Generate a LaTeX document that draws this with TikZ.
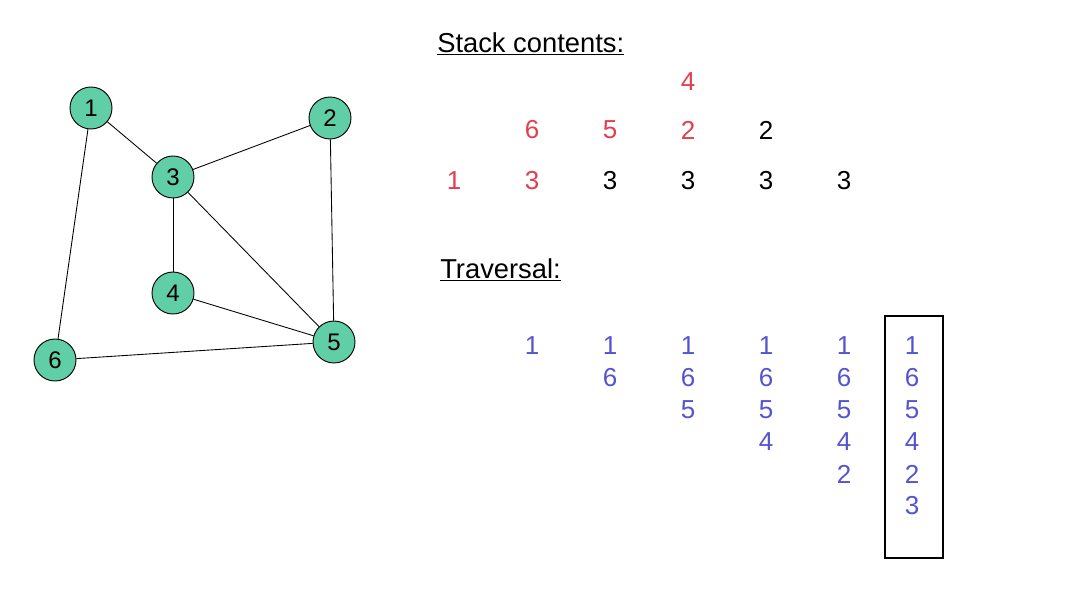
\documentclass[tikz,border=0pt]{standalone}
\usepackage{fontspec}
\setmainfont{Liberation Sans}
\definecolor{mint}{RGB}{96,206,166}
\definecolor{sred}{RGB}{226,62,78}
\definecolor{tblue}{RGB}{84,84,208}
\begin{document}
\begin{tikzpicture}[x=0.75pt,y=-0.75pt,
  vert/.style={circle,draw=black,line width=0.7pt,fill=mint,minimum size=31.5pt,inner sep=0pt,font=\fontsize{18}{18}\selectfont},
  edge/.style={line width=0.65pt},
  num/.style={inner sep=0pt,font=\fontsize{19.5}{19.5}\selectfont},
  redn/.style={num,text=sred},
  blkn/.style={num,text=black},
  blun/.style={num,text=tblue},
  head/.style={inner sep=0pt,anchor=base west,font=\fontsize{20.5}{20.5}\selectfont}]
\useasboundingbox (0,0) rectangle (1070,596);
% graph
\node[vert] (v1) at (91,108) {1};
\node[vert] (v2) at (330,118) {2};
\node[vert] (v3) at (173,177) {3};
\node[vert] (v4) at (173,293) {4};
\node[vert] (v5) at (334,342) {5};
\node[vert] (v6) at (55,360) {6};
\draw[edge] (v1) -- (v3);
\draw[edge] (v1) -- (v6);
\draw[edge] (v3) -- (v2);
\draw[edge] (v3) -- (v4);
\draw[edge] (v3) -- (v5);
\draw[edge] (v2) -- (v5);
\draw[edge] (v4) -- (v5);
\draw[edge] (v6) -- (v5);
% headings
\node[head] (hstack) at (437,52) {\underline{Stack contents:}};
\node[head] (htrav) at (440,278) {\underline{Traversal:}};
% stack contents
\node[redn] (s11) at (454,181) {1};
\node[redn] (s21) at (532,181) {3};
\node[redn] (s22) at (532,130) {6};
\node[blkn] (s31) at (610,181) {3};
\node[redn] (s32) at (610,130) {5};
\node[blkn] (s41) at (688,181) {3};
\node[redn] (s42) at (688,130) {2};
\node[redn] (s43) at (688,82) {4};
\node[blkn] (s51) at (766,181) {3};
\node[blkn] (s52) at (766,130) {2};
\node[blkn] (s61) at (844,181) {3};
% traversal
\node[blun] (t11) at (532,346) {1};
\node[blun] (t21) at (610,346) {1};
\node[blun] (t22) at (610,378) {6};
\node[blun] (t31) at (688,346) {1};
\node[blun] (t32) at (688,378) {6};
\node[blun] (t33) at (688,410) {5};
\node[blun] (t41) at (766,346) {1};
\node[blun] (t42) at (766,378) {6};
\node[blun] (t43) at (766,410) {5};
\node[blun] (t44) at (766,442) {4};
\node[blun] (t51) at (844,346) {1};
\node[blun] (t52) at (844,378) {6};
\node[blun] (t53) at (844,410) {5};
\node[blun] (t54) at (844,442) {4};
\node[blun] (t55) at (844,474) {2};
\node[blun] (t61) at (912,346) {1};
\node[blun] (t62) at (912,378) {6};
\node[blun] (t63) at (912,410) {5};
\node[blun] (t64) at (912,442) {4};
\node[blun] (t65) at (912,474) {2};
\node[blun] (t66) at (912,506) {3};
\node[draw=black,line width=1pt,minimum width=43.5pt,minimum height=181.5pt,inner sep=0pt] (box) at (914,437) {};
\end{tikzpicture}
\end{document}
